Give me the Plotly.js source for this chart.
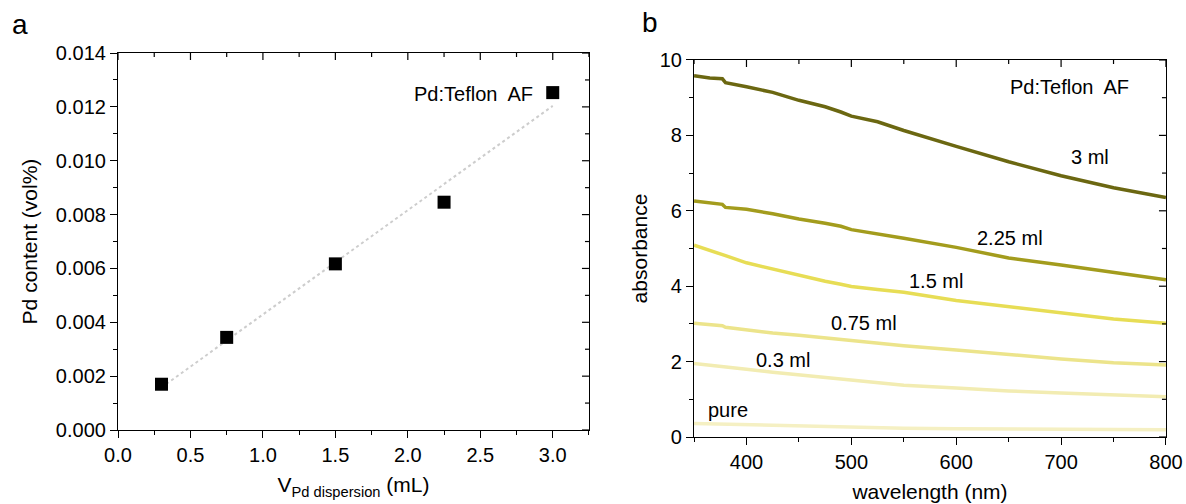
<!DOCTYPE html>
<html>
<head>
<meta charset="utf-8">
<script src="https://cdn.plot.ly/plotly-3.0.1.min.js"></script>
<style>
  html, body { margin: 0; padding: 0; background: #fff; }
  #chart { width: 1186px; height: 504px; }
</style>
</head>
<body>
<div id="chart"></div>
<script>
// Panel a: Pd content vs. volume of Pd dispersion
const dispersionVolume = [0.3, 0.75, 1.5, 2.25, 3.0];          // mL
const pdContent = [0.0017, 0.00344, 0.00617, 0.00846, 0.01253]; // vol%

// Panel b: absorbance spectra (wavelength in nm)
const wavelength = [350, 365, 377, 380, 400, 425, 450, 475, 490, 500, 525, 550, 600, 650, 700, 750, 800];
const abs3ml    = [9.58, 9.52, 9.50, 9.40, 9.29, 9.14, 8.93, 8.76, 8.62, 8.51, 8.36, 8.13, 7.71, 7.30, 6.93, 6.61, 6.35];
const abs225ml  = [6.26, 6.20, 6.17, 6.09, 6.04, 5.92, 5.78, 5.67, 5.59, 5.50, 5.39, 5.27, 5.03, 4.75, 4.56, 4.36, 4.17];
const abs15ml   = [5.09, 4.96, 4.85, 4.81, 4.62, 4.45, 4.28, 4.13, 4.05, 3.99, 3.91, 3.84, 3.62, 3.45, 3.29, 3.13, 3.02];
const abs075ml  = [3.02, 2.98, 2.95, 2.91, 2.84, 2.76, 2.70, 2.63, 2.59, 2.56, 2.49, 2.42, 2.31, 2.18, 2.07, 1.97, 1.91];
const abs03ml   = [1.95, 1.91, 1.88, 1.86, 1.80, 1.72, 1.65, 1.57, 1.52, 1.49, 1.42, 1.37, 1.30, 1.22, 1.17, 1.11, 1.07];
const absPure   = [0.36, 0.35, 0.34, 0.34, 0.32, 0.30, 0.28, 0.27, 0.26, 0.25, 0.24, 0.235, 0.22, 0.21, 0.20, 0.195, 0.19];

const spectraLabels = ['3 ml', '2.25 ml', '1.5 ml', '0.75 ml', '0.3 ml', 'pure'];
const spectraColors = ['#6b6711', '#a39c1d', '#e7dd55', '#ece48b', '#f2ecb2', '#f5f0c3'];
const spectra = [abs3ml, abs225ml, abs15ml, abs075ml, abs03ml, absPure];

// least-squares line through panel a points
function linearFit(xs, ys) {
  const n = xs.length;
  const mx = xs.reduce((a, b) => a + b, 0) / n;
  const my = ys.reduce((a, b) => a + b, 0) / n;
  let sxy = 0, sxx = 0;
  for (let i = 0; i < n; i++) {
    sxy += (xs[i] - mx) * (ys[i] - my);
    sxx += (xs[i] - mx) * (xs[i] - mx);
  }
  const slope = sxy / sxx;
  return { slope, intercept: my - slope * mx };
}
const fit = linearFit(dispersionVolume, pdContent);
const fitX = [dispersionVolume[0], dispersionVolume[dispersionVolume.length - 1]];
const fitY = fitX.map(x => fit.intercept + fit.slope * x);

const FONT = 'Liberation Sans, Arial, Helvetica, sans-serif';
const TICK_SIZE = 20;
const TITLE_SIZE = 21;
const NOTE_SIZE = 20;
const MAJOR_LEN = 7, MINOR_LEN = 4, TICK_W = 1.2;

const traces = [
  {
    x: fitX, y: fitY, xaxis: 'x', yaxis: 'y', mode: 'lines',
    line: { color: '#cdcdcd', width: 2, dash: 'dot' }, hoverinfo: 'skip'
  },
  {
    x: dispersionVolume, y: pdContent, xaxis: 'x', yaxis: 'y', mode: 'markers',
    marker: { symbol: 'square', size: 13, color: '#000' }
  }
];
spectra.forEach((s, i) => {
  traces.push({
    x: wavelength, y: s, xaxis: 'x2', yaxis: 'y2', mode: 'lines', name: spectraLabels[i],
    line: { color: spectraColors[i], width: 3.5 }
  });
});

function axisBase() {
  return {
    showline: true, linecolor: '#000', linewidth: 1.2, mirror: true,
    showgrid: false, zeroline: false,
    ticks: 'outside', ticklen: MAJOR_LEN, tickwidth: TICK_W, tickcolor: '#000',
    tickfont: { family: FONT, size: TICK_SIZE, color: '#000' }
  };
}
const minorOut = (d) => ({ ticks: 'outside', ticklen: MINOR_LEN, dtick: d });

// inward ticks on the top and right edges of a panel, placed through the axes
function frameTicks(xa, ya, xRange, xStep, yRange, yStep) {
  const shapes = [];
  const nx = Math.round((xRange[1] - xRange[0]) / xStep);
  for (let i = 0; i <= nx; i++) {
    const v = xRange[0] + i * xStep;
    const q = v / (2 * xStep);
    const len = Math.abs(q - Math.round(q)) < 1e-6 ? MAJOR_LEN : MINOR_LEN;
    shapes.push({ type: 'line', xref: xa, yref: ya + ' domain', ysizemode: 'pixel', yanchor: 1,
      x0: v, x1: v, y0: 0, y1: -len, line: { color: '#000', width: TICK_W } });
  }
  const ny = Math.round((yRange[1] - yRange[0]) / yStep);
  for (let i = 0; i <= ny; i++) {
    const v = yRange[0] + i * yStep;
    const q = v / (2 * yStep);
    const len = Math.abs(q - Math.round(q)) < 1e-6 ? MAJOR_LEN : MINOR_LEN;
    shapes.push({ type: 'line', yref: ya, xref: xa + ' domain', xsizemode: 'pixel', xanchor: 1,
      y0: v, y1: v, x0: 0, x1: -len, line: { color: '#000', width: TICK_W } });
  }
  return shapes;
}

const rangeA = { x: [0, 3.25], y: [0, 0.014] };
const rangeB = { x: [350, 800], y: [0, 10] };

const note = (text, xref, yref, x, y) => ({
  text, xref, yref, x, y, xanchor: 'center', yanchor: 'middle', showarrow: false,
  font: { family: FONT, size: NOTE_SIZE, color: '#000' }
});

const layout = {
  width: 1186, height: 504,
  margin: { l: 0, r: 0, t: 0, b: 0 },
  paper_bgcolor: '#fff', plot_bgcolor: 'rgba(0,0,0,0)',
  showlegend: false,
  font: { family: FONT, size: TICK_SIZE, color: '#000' },

  xaxis: Object.assign(axisBase(), {
    domain: [0.0995, 0.4966], anchor: 'y', range: rangeA.x,
    dtick: 0.5, tickformat: '.1f', minor: minorOut(0.25),
    title: { text: 'V<sub>Pd dispersion</sub> (mL)', font: { family: FONT, size: TITLE_SIZE }, standoff: 12 }
  }),
  yaxis: Object.assign(axisBase(), {
    domain: [0.1468, 0.8948], anchor: 'x', range: rangeA.y,
    dtick: 0.002, tickformat: '.3f', minor: minorOut(0.001),
    title: { text: 'Pd content (vol%)', font: { family: FONT, size: TITLE_SIZE }, standoff: 12 }
  }),
  xaxis2: Object.assign(axisBase(), {
    domain: [0.5852, 0.9831], anchor: 'y2', range: rangeB.x,
    dtick: 100, minor: minorOut(50),
    title: { text: 'wavelength (nm)', font: { family: FONT, size: TITLE_SIZE }, standoff: 12 }
  }),
  yaxis2: Object.assign(axisBase(), {
    domain: [0.1329, 0.881], anchor: 'x2', range: rangeB.y,
    dtick: 2, minor: minorOut(1),
    title: { text: 'absorbance', font: { family: FONT, size: TITLE_SIZE }, standoff: 6 }
  }),

  shapes: [].concat(
    frameTicks('x', 'y', rangeA.x, 0.25, rangeA.y, 0.001),
    frameTicks('x2', 'y2', rangeB.x, 50, rangeB.y, 1)
  ),

  annotations: [
    { text: 'a', xref: 'paper', yref: 'paper', x: 0.0165, y: 0.951, xanchor: 'center', yanchor: 'middle',
      showarrow: false, font: { family: FONT, size: 28, color: '#000' } },
    { text: 'b', xref: 'paper', yref: 'paper', x: 0.548, y: 0.955, xanchor: 'center', yanchor: 'middle',
      showarrow: false, font: { family: FONT, size: 28, color: '#000' } },
    note('Pd:Teflon  AF', 'x', 'y', 2.45, 0.01249),
    note('Pd:Teflon  AF', 'x2', 'y2', 708, 9.28),
    note(spectraLabels[0], 'x2', 'y2', 728, 7.43),
    note(spectraLabels[1], 'x2', 'y2', 651, 5.28),
    note(spectraLabels[2], 'x2', 'y2', 581, 4.15),
    note(spectraLabels[3], 'x2', 'y2', 512, 3.03),
    note(spectraLabels[4], 'x2', 'y2', 435, 2.04),
    note(spectraLabels[5], 'x2', 'y2', 382, 0.72)
  ]
};

Plotly.newPlot('chart', traces, layout, { displayModeBar: false });
</script>
</body>
</html>
